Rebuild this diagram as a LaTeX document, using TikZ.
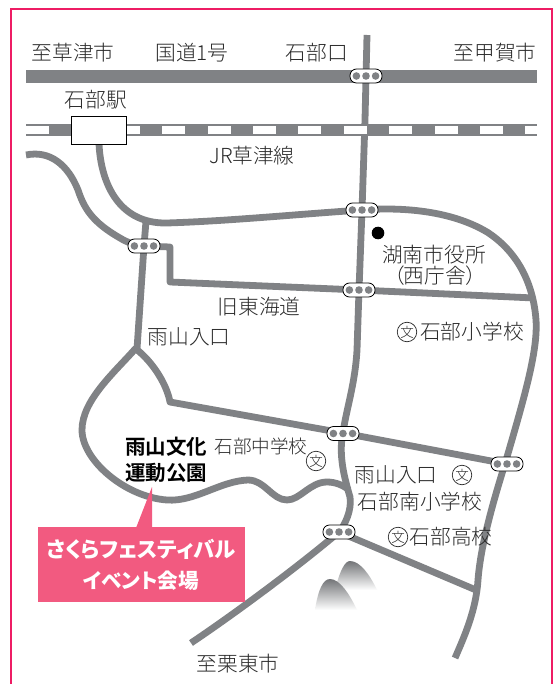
\documentclass[tikz,border=0pt]{standalone}
\usepackage{fontspec}
\setmainfont{Noto Sans CJK JP Light}
\newfontfamily\palt{Noto Sans CJK JP Light}[RawFeature=+palt]
\newfontfamily\boldjp{Noto Sans CJK JP Bold}
\newfontfamily\boldpalt{Noto Sans CJK JP Black}[RawFeature=+palt]
\usetikzlibrary{shadings}
\definecolor{roadgray}{HTML}{808285}
\definecolor{framepink}{HTML}{EE1C64}
\definecolor{labelpink}{HTML}{F25A80}
\definecolor{inkgray}{HTML}{2A2A2A}
\tikzset{
  x=1pt,y=-1pt,
  road/.style={draw=roadgray,line width=6.8pt,line cap=butt,line join=round},
  lbl/.style={font=\fontsize{20.7}{22}\selectfont,text=inkgray,inner sep=0pt},
  boldlbl/.style={font=\boldjp\fontsize{20.5}{22}\selectfont,text=black,inner sep=0pt},
  calltext/.style={inner sep=0pt,text=white},
  sig/.style={draw=black,fill=white,rounded corners=6.5pt,minimum width=32pt,minimum height=14pt,inner sep=0pt,line width=0.8pt},
  lamp/.style={fill=roadgray,circle,minimum size=7.6pt,inner sep=0pt},
  sch/.style={draw=inkgray,circle,minimum size=19.5pt,inner sep=0pt,line width=0.7pt,font=\fontsize{13.5}{14}\selectfont,text=inkgray},
}
\newcommand{\signal}[3]{%
  \node[sig] (#1) at (#2,#3) {};
  \node[lamp] at (#2-9.6,#3) {};
  \node[lamp] at (#2,#3) {};
  \node[lamp] at (#2+9.6,#3) {};
}
\begin{document}
\begin{tikzpicture}
\useasboundingbox (0,0) rectangle (556,684);
\fill[white] (0,0) rectangle (556,684);
\draw[framepink,line width=2.5pt] (11,684) -- (11,9) -- (552,9) -- (552,684);
% national road
\fill[roadgray] (26,70) rectangle (537,83);
% main N-S
\draw[road] (367,35) -- (365,120) -- (362,210) -- (359,290) -- (357,350) .. controls (355,385) and (346,410) .. (343,433) .. controls (338,455) and (345,480) .. (350,497) .. controls (352,510) and (345,525) .. (339,532) .. controls (300,565) and (240,610) .. (191,643);
% station road and loop
\draw[road] (99,144) .. controls (101,185) and (120,224) .. (167,223) .. controls (230,221) and (300,214) .. (362,210) .. controls (400,207) and (450,210) .. (487,232) .. controls (515,250) and (533,280) .. (536,320) .. controls (538,350) and (525,395) .. (507,457) .. controls (497,490) and (481,540) .. (478,580) .. controls (476,610) and (465,635) .. (455,658);
% west road
\draw[road] (26,155) .. controls (50,150) and (68,165) .. (78,190) .. controls (84,208) and (92,222) .. (120,238) .. controls (128,243) and (136,245) .. (144,246);
% branch through signal 3
\draw[road] (146,221) -- (144,246) -- (137,349);
% old Tokaido
\draw[road] (144,246) -- (170,247) -- (170,282) -- (359,290) -- (534,298);
% park loop
\draw[road] (136,348) .. controls (115,372) and (82,400) .. (82,430) .. controls (82,460) and (125,497) .. (167,500) .. controls (195,502) and (220,481) .. (248,480) .. controls (265,480) and (272,500) .. (287,500) .. controls (300,500) and (310,482) .. (327,482) .. controls (335,482) and (343,485) .. (349,490);
\draw[road] (136,349) .. controls (153,362) and (167,385) .. (170,402) -- (343,433) -- (507,464);
% bottom branch
\draw[road] (339,532) -- (476,590);
% railway above roads
\fill[roadgray] (26,124) rectangle (537,136);
\fill[white] (26,126) rectangle (49,134);
\foreach \x in {117,162,207.5,253,298,344,389,435,480} {\fill[white] (\x,126) rectangle ++(23,8);}
\fill[white] (525,126) rectangle (537,134);
% mountains
\shade[top color=roadgray!90!black,bottom color=white] (335,590) .. controls (340,570) and (345,561) .. (350,561) .. controls (360,561) and (370,575) .. (377,590) -- cycle;
\shade[top color=roadgray!90!black,bottom color=white] (315,610) .. controls (318,590) and (323,579) .. (330,579) .. controls (340,579) and (350,595) .. (357,610) -- cycle;
% station
\node[draw=black,fill=white,line width=0.9pt,minimum width=55pt,minimum height=28pt,inner sep=0pt] (stn) at (99,130) {};
% signals
\signal{s1}{366}{76}
\signal{s2}{362}{210}
\signal{s3}{144}{246}
\signal{s4}{359}{290}
\signal{s5}{343}{433.5}
\signal{s6}{507}{464}
\signal{s7}{339}{532}
\fill[black] (378,233) circle (6.3pt);
% labels
\node[lbl] (a) at (73,53) {至草津市};
\node[lbl] (b) at (192,53) {国道1号};
\node[lbl] (c) at (317,53) {石部口};
\node[lbl] (d) at (495,53) {至甲賀市};
\node[lbl] (e) at (96,100) {石部駅};
\node[lbl] (f) at (252,156) {JR草津線};
\node[lbl] (g) at (434,255) {湖南市役所};
\node[lbl,font=\palt\fontsize{20.7}{22}\selectfont] (h) at (435,276) {（西庁舎）};
\node[lbl] (i) at (259,307) {旧東海道};
\node[lbl] (j) at (189,337) {雨山入口};
\node[sch] (k) at (407,332) {文};
\node[lbl] (l) at (472,332) {石部小学校};
\node[lbl,font=\fontsize{18.6}{20}\selectfont] (m) at (261,446) {石部中学校};
\node[sch] (n) at (316,461) {文};
\node[lbl] (o) at (396,475) {雨山入口};
\node[sch] (p) at (462,475) {文};
\node[lbl] (q) at (420,502) {石部南小学校};
\node[sch] (r) at (398,537) {文};
\node[lbl] (s) at (451,537) {石部高校};
\node[lbl] (t) at (238,664) {至栗東市};
\node[boldlbl] (u) at (166,447) {雨山文化};
\node[boldlbl] (v) at (166,473) {運動公園};
% callout
\fill[labelpink] (38,527) rectangle (245,602);
\coordinate (tip) at (152,487);
\fill[labelpink] (136,528) -- (tip) -- (152,528) -- cycle;
\node[calltext,font=\boldpalt\fontsize{21.4}{24}\selectfont] (w) at (141,549) {さくらフェスティバル};
\node[calltext,font=\boldpalt\fontsize{20.6}{24}\selectfont] (x) at (141,581) {イベント会場};
\end{tikzpicture}
\end{document}
